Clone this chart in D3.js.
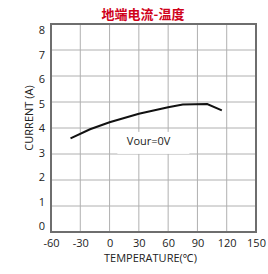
<!DOCTYPE html>
<html>
<head>
<meta charset="utf-8">
<script src="https://cdn.jsdelivr.net/npm/d3@7"></script>
<style>
  body { margin: 0; background: #fff; }
  text { font-family: "Open Sans", "Noto Sans", sans-serif; }
</style>
</head>
<body>
<svg width="268" height="274"></svg>
<script>
// data
const temps = [-40, -20, 0, 30, 60, 75, 100, 115];
const currents = [3.6, 3.95, 4.22, 4.55, 4.8, 4.9, 4.92, 4.68];
const xTicks = [-60, -30, 0, 30, 60, 90, 120, 150];
const yTicks = [0, 1, 2, 3, 4, 5, 6, 7, 8];

const margin = {top: 24, right: 12, bottom: 42, left: 51};
const width = 268 - margin.left - margin.right,
      height = 274 - margin.top - margin.bottom;

const svg = d3.select("svg");
const g = svg.append("g")
    .attr("transform", `translate(${margin.left}, ${margin.top})`);

const x = d3.scaleLinear().domain([-60, 150]).range([0, width]);
const y = d3.scaleLinear().domain([0, 8]).range([height, 0]);
// the y tick labels sit a bit inside the frame in the original
const yLab = d3.scaleLinear().domain([0, 8]).range([height - 6, 6]);

// grid
g.selectAll(".vgrid").data(xTicks).enter().append("line")
  .attr("x1", d => x(d)).attr("x2", d => x(d))
  .attr("y1", 0).attr("y2", height)
  .attr("stroke", "#b0b0b0").attr("stroke-width", 1);
g.selectAll(".hgrid").data(yTicks).enter().append("line")
  .attr("y1", d => y(d)).attr("y2", d => y(d))
  .attr("x1", 0).attr("x2", width)
  .attr("stroke", "#b0b0b0").attr("stroke-width", 1);

// frame
g.append("rect")
  .attr("width", width).attr("height", height)
  .attr("fill", "none").attr("stroke", "#6e6e6e").attr("stroke-width", 2);

// axes labels
const xAxis = d3.axisBottom(x).tickValues(xTicks).tickFormat(d => String(d))
  .tickSize(0).tickPadding(7);
g.append("g").attr("transform", `translate(0, ${height})`).call(xAxis)
  .call(a => a.select(".domain").remove())
  .selectAll("text").attr("font-size", "11px").attr("fill", "#222");

const yAxis = d3.axisLeft(yLab).tickValues(yTicks).tickSize(0).tickPadding(6);
g.append("g").call(yAxis)
  .call(a => a.select(".domain").remove())
  .selectAll("text").attr("font-size", "11px").attr("fill", "#222");

// annotation box
g.append("rect")
  .attr("x", x(8)).attr("y", y(3.85))
  .attr("width", 72).attr("height", 22)
  .attr("fill", "#fff");
g.append("text")
  .attr("x", x(40)).attr("y", y(3.36))
  .attr("text-anchor", "middle")
  .attr("font-size", "11px").attr("fill", "#222")
  .text("Vour=0V");

// curve
const pts = temps.map((t, i) => [t, currents[i]]);
g.append("path")
  .datum(pts)
  .attr("d", d3.line().x(d => x(d[0])).y(d => y(d[1])))
  .attr("fill", "none").attr("stroke", "#111").attr("stroke-width", 2);

// title
svg.append("text")
  .attr("x", 143).attr("y", 19)
  .attr("text-anchor", "middle")
  .attr("font-size", "13px").attr("font-weight", "bold")
  .attr("fill", "#d0021b")
  .style("font-family", "'Noto Sans CJK SC', sans-serif")
  .text("地端电流-温度");

// axis titles
svg.append("text")
  .attr("x", margin.left + width / 2 - 3).attr("y", 262)
  .attr("text-anchor", "middle")
  .attr("font-size", "11px").attr("fill", "#222")
  .text("TEMPERATURE(℃)");

svg.append("text")
  .attr("transform", `translate(33, 118) rotate(-90)`)
  .attr("text-anchor", "middle")
  .attr("font-size", "11px").attr("fill", "#222")
  .text("CURRENT (A)");
</script>
</body>
</html>
